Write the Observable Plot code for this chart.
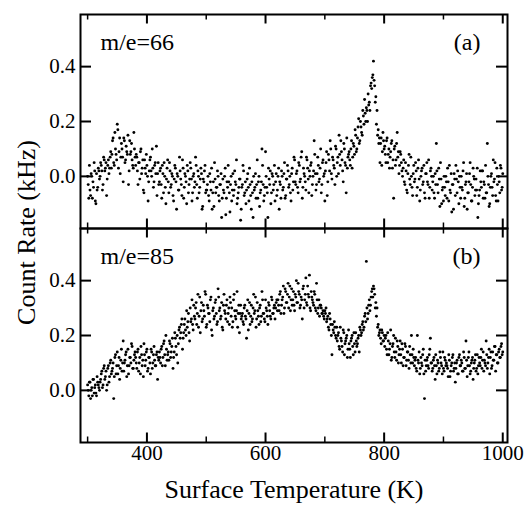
<!DOCTYPE html>
<html><head><meta charset="utf-8">
<script src="https://cdn.jsdelivr.net/npm/d3@7"></script>
<script src="https://cdn.jsdelivr.net/npm/@observablehq/plot@0.6"></script>
<style>body{margin:0;background:#fff} svg{display:block}</style>
</head><body><div id="chart"></div>
<script>
// Surface temperature (K) of the samples, first set
const temperatures = [
300,302,304,306,308,310,312,314,316,318,
320,322,324,326,328,330,332,334,336,338,
340,342,344,346,348,350,352,354,356,358,
360,362,364,366,368,370,372,374,376,378,
380,382,384,386,388,390,392,394,396,398,
400,402,404,406,408,410,412,414,416,418,
420,422,424,426,428,430,432,434,436,438,
440,442,444,446,448,450,452,454,456,458,
460,462,464,466,468,470,472,474,476,478,
480,482,484,486,488,490,492,494,496,498,
500,502,504,506,508,510,512,514,516,518,
520,522,524,526,528,530,532,534,536,538,
540,542,544,546,548,550,552,554,556,558,
560,562,564,566,568,570,572,574,576,578,
580,582,584,586,588,590,592,594,596,598,
600,602,604,606,608,610,612,614,616,618,
620,622,624,626,628,630,632,634,636,638,
640,642,644,646,648,650,652,654,656,658,
660,662,664,666,668,670,672,674,676,678,
680,682,684,686,688,690,692,694,696,698,
700,702,704,706,708,710,712,714,716,718,
720,722,724,726,728,730,732,734,736,738,
740,742,744,746,748,750,752,754,756,758,
760,762,764,766,768,770,772,774,776,778,
780,782,784,786,788,790,792,794,796,798,
800,802,804,806,808,810,812,814,816,818,
820,822,824,826,828,830,832,834,836,838,
840,842,844,846,848,850,852,854,856,858,
860,862,864,866,868,870,872,874,876,878,
880,882,884,886,888,890,892,894,896,898,
900,902,904,906,908,910,912,914,916,918,
920,922,924,926,928,930,932,934,936,938,
940,942,944,946,948,950,952,954,956,958,
960,962,964,966,968,970,972,974,976,978,
980,982,984,986,988,990,992,994,996,998,
1000];

// Surface temperature (K) of the samples, second set
const temperatures2 = [
301,303,305,307,309,311,313,315,317,319,
321,323,325,327,329,331,333,335,337,339,
341,343,345,347,349,351,353,355,357,359,
361,363,365,367,369,371,373,375,377,379,
381,383,385,387,389,391,393,395,397,399,
401,403,405,407,409,411,413,415,417,419,
421,423,425,427,429,431,433,435,437,439,
441,443,445,447,449,451,453,455,457,459,
461,463,465,467,469,471,473,475,477,479,
481,483,485,487,489,491,493,495,497,499,
501,503,505,507,509,511,513,515,517,519,
521,523,525,527,529,531,533,535,537,539,
541,543,545,547,549,551,553,555,557,559,
561,563,565,567,569,571,573,575,577,579,
581,583,585,587,589,591,593,595,597,599,
601,603,605,607,609,611,613,615,617,619,
621,623,625,627,629,631,633,635,637,639,
641,643,645,647,649,651,653,655,657,659,
661,663,665,667,669,671,673,675,677,679,
681,683,685,687,689,691,693,695,697,699,
701,703,705,707,709,711,713,715,717,719,
721,723,725,727,729,731,733,735,737,739,
741,743,745,747,749,751,753,755,757,759,
761,763,765,767,769,771,773,775,777,779,
781,783,785,787,789,791,793,795,797,799,
801,803,805,807,809,811,813,815,817,819,
821,823,825,827,829,831,833,835,837,839,
841,843,845,847,849,851,853,855,857,859,
861,863,865,867,869,871,873,875,877,879,
881,883,885,887,889,891,893,895,897,899,
901,903,905,907,909,911,913,915,917,919,
921,923,925,927,929,931,933,935,937,939,
941,943,945,947,949,951,953,955,957,959,
961,963,965,967,969,971,973,975,977,979,
981,983,985,987,989,991,993,995,997,999];

// Count rate m/e=66, first set, in units of 0.01 kHz
const rateA = [
0,-8,-5,1,-8,-4,2,-10,-5,3,-1,
5,2,-3,6,3,-7,4,1,7,3,
13,5,16,8,19,3,14,7,10,-2,13,6,9,15,2,8,12,4,16,7,
8,2,5,-1,10,3,-5,6,1,4,-9,2,7,0,3,-2,5,11,1,-3,
2,-3,4,-6,0,-10,3,-2,5,-4,1,-7,-1,3,-12,0,-5,2,-3,6,-8,1,-2,4,-6,-1,3,-9,0,-4,7,-3,2,-6,-1,1,-11,-2,4,-5,
-3,-7,1,-5,-12,-2,5,-6,-4,0,-9,-3,-15,-1,-6,3,-8,-4,-2,-13,0,-5,-7,2,-3,-10,-6,-1,-16,-4,4,-7,-2,-5,1,-9,-3,-12,-6,0,-4,-8,6,-2,-11,-5,10,-3,-7,9,
-4,-15,-1,2,-6,0,-3,-9,1,-5,3,-2,-8,0,-4,5,-7,-1,2,-3,-6,1,-5,7,-2,
1,-4,5,-2,7,-8,3,0,-5,6,-1,2,4,-7,0,13,1,-3,7,-2,3,-6,5,0,-9,
5,-7,8,2,10,-1,6,3,11,0,7,15,4,9,2,12,5,-6,3,8,
6,10,3,12,8,15,10,18,12,20,16,24,19,23,25,
20,26,24,34,36,42,33,29,
24,17,14,12,4,16,10,
8,13,5,10,7,12,3,-8,11,6,16,9,4,8,2,
3,-2,5,-5,1,8,-3,0,-7,4,-1,2,-4,6,-9,0,3,-2,-6,1,5,-3,-8,2,0,
-2,-6,1,12,-3,3,-11,-1,-5,-9,-4,0,-8,-2,4,-6,-13,-3,1,-7,-1,2,-10,-4,0,-5,5,-8,-2,-12,-6,1,-3,-9,3,-1,-5,-5,-15,-7,2,-4,2,-2,-8,-6,12,-3,-10,0,-4,6,-1,-7,3,-9,-2,4,-5,1];

// Count rate m/e=66, second set, in units of 0.01 kHz
const rateA2 = [
-3,4,-7,0,-2,5,-9,1,-4,2,
0,4,-5,7,2,5,-1,6,3,9,
8,14,4,10,6,17,9,1,12,7,14,5,11,8,-3,13,9,6,3,10,
4,7,-3,5,9,1,6,-6,3,8,0,-2,6,2,10,-4,4,1,-7,5,
-2,3,-8,1,5,-4,-1,6,-6,2,-3,0,-9,4,-2,1,-5,7,-1,-7,3,-4,0,-10,2,-3,5,-1,-6,1,-2,4,-8,0,-4,3,-12,-1,2,-6,
-5,0,-9,-2,3,-6,-11,-1,-4,2,-7,-3,1,-8,-5,0,-14,-2,4,-6,-3,-9,1,-5,-2,6,-8,-4,-1,-12,-3,2,-6,-10,-1,-4,3,-7,-2,-15,-5,1,-3,-8,0,-6,-2,4,-9,-4,
0,-6,3,-3,-10,1,-5,4,-2,-7,0,-12,-3,2,-5,1,-8,-1,4,-4,0,-9,3,-2,6,
-3,2,-6,4,-1,9,-4,1,-2,7,3,-6,0,5,-3,2,8,-5,1,4,-1,10,-3,6,1,
2,9,-2,6,13,1,7,4,-3,10,5,1,8,13,6,-2,10,4,14,7,
9,4,13,7,11,17,9,14,21,13,18,15,22,28,20,
24,30,27,33,32,37,35,27,
19,15,12,5,14,9,13,
11,5,14,8,3,9,13,6,10,4,12,7,1,9,5,
0,6,-3,2,-6,4,-1,7,-4,1,-2,5,-7,3,-1,-5,2,-3,4,-8,1,-2,6,-4,3,
-5,0,-8,-3,2,-6,-1,5,-10,-4,0,-7,-2,3,-9,-5,1,-3,-12,-1,4,-6,-2,0,-8,-4,2,-11,-3,1,-6,-2,5,-9,-4,0,-7,-1,3,-10,-5,-2,2,-8,-3,4,-6,0,-11,-4,1,-7,-2,5,-9,-3,0,-6,3,-4];

// Count rate m/e=85, first set, in units of 0.01 kHz
const rateB = [
2,-2,3,0,-2,4,1,-1,5,2,0,
4,7,2,9,5,0,8,3,10,6,
8,-3,12,6,14,9,4,11,7,18,10,13,5,15,9,12,17,8,11,14,
10,14,7,12,16,9,5,13,11,15,8,12,6,14,10,16,9,13,4,11,
12,15,9,17,13,20,11,14,18,12,16,8,14,19,13,
10,22,19,24,15,21,26,20,23,28,18,25,33,22,27,
30,24,35,27,21,32,26,29,36,23,31,28,25,34,20,30,27,33,24,37,29,26,32,22,35,28,31,25,30,34,27,23,33,29,26,36,28,21,31,27,
25,30,27,19,33,28,24,31,26,35,29,23,32,27,30,25,36,28,26,33,29,24,31,27,34,28,30,26,32,29,
31,35,28,33,38,30,36,32,39,34,29,37,33,31,35,40,32,36,30,34,26,38,33,41,31,35,42,29,34,32,36,30,39,28,33,31,30,28,27,29,
30,26,23,28,24,13,22,25,20,23,
20,16,23,18,14,21,17,19,12,22,15,18,20,13,17,21,16,19,14,22,
21,25,23,28,47,26,31,29,34,37,38,35,32,
30,24,21,19,22,18,20,
19,15,21,13,17,11,16,20,12,14,18,10,15,13,17,9,12,16,11,14,8,13,20,10,12,
11,8,20,10,6,12,9,15,-3,7,11,9,13,19,10,8,12,4,9,11,7,14,10,6,8,12,9,9,5,11,7,10,13,8,3,10,6,12,9,11,7,14,8,18,5,12,9,7,11,4,10,13,8,6,12,9,15,11,7,10,18,8,12,6,14,9,11,16,7,13,10,15,12,17,14];

// Count rate m/e=85, second set, in units of 0.01 kHz
const rateB2 = [
0,3,-3,1,4,-1,2,-2,3,1,
3,6,1,8,4,7,2,9,5,11,
7,10,5,13,9,6,12,8,15,10,7,11,14,9,6,12,10,16,8,13,
12,8,15,10,6,13,11,17,9,14,7,12,10,15,8,13,11,9,14,12,
14,10,16,12,18,9,15,13,11,17,14,19,12,21,16,
20,17,23,21,26,19,24,22,29,25,21,30,26,24,31,
26,32,28,23,34,29,25,31,27,35,24,30,28,33,22,29,26,32,28,25,34,30,27,23,31,29,26,33,28,24,32,30,25,35,27,29,23,31,28,26,
28,24,31,26,29,22,32,27,25,30,28,34,26,29,24,31,27,33,28,25,30,27,32,29,26,33,28,31,30,33,
33,29,36,31,34,28,37,32,35,30,38,33,31,36,29,34,32,39,35,31,33,37,30,35,32,38,34,30,36,33,31,35,29,33,30,27,31,28,29,26,
28,25,27,22,26,20,24,21,23,19,
18,21,15,19,16,22,13,18,20,15,17,12,19,16,21,14,18,17,20,23,
20,24,22,27,25,30,28,33,31,36,34,37,30,
27,23,20,22,17,21,18,
16,20,13,18,15,22,12,17,14,19,11,16,13,18,10,15,12,17,9,14,11,16,10,13,15,
9,12,7,11,14,8,10,13,6,11,9,12,8,15,10,7,11,9,13,6,10,8,12,9,14,7,11,10,8,13,5,9,12,7,10,8,11,6,13,9,10,7,12,8,11,9,14,6,10,12,8,11,7,13,9,10,12,8,14,11,9,13,10,15,12,8,14,11,16,13,10,14,12,16,13];

const panels = ["a", "b"];
const massLabels = ["m/e=66", "m/e=85"];
const panelTags = ["(a)", "(b)"];
const xTicksMajor = [400, 600, 800, 1000];
const xTicksMinor = [300, 500, 700, 900];
const yTicks = [0, 0.2, 0.4];
const xTitle = "Surface Temperature (K)";
const yTitle = "Count Rate (kHz)";

if (rateA.length !== temperatures.length || rateB.length !== temperatures.length ||
    rateA2.length !== temperatures2.length || rateB2.length !== temperatures2.length)
  console.error("length mismatch", temperatures.length, rateA.length, rateB.length, temperatures2.length, rateA2.length, rateB2.length);

const rows = [
  ...temperatures.map((t, i) => ({panel: "a", T: t, rate: rateA[i] / 100})),
  ...temperatures2.map((t, i) => ({panel: "a", T: t, rate: rateA2[i] / 100})),
  ...temperatures.map((t, i) => ({panel: "b", T: t, rate: rateB[i] / 100})),
  ...temperatures2.map((t, i) => ({panel: "b", T: t, rate: rateB2[i] / 100}))
];
const labelRows = panels.map((p, i) => ({panel: p, mass: massLabels[i], tag: panelTags[i]}));

const W = 526, H = 508, mL = 80, mR = 19, mT = 13, mB = 66;
const plotW = W - mL - mR;
const facetH = (H - mT - mB) / 2;
const font = "'Liberation Serif', 'Times New Roman', serif";

const chart = Plot.plot({
  width: W, height: H,
  marginLeft: mL, marginRight: mR, marginTop: mT, marginBottom: mB,
  style: {fontFamily: font, background: "white", color: "black", overflow: "visible"},
  x: {domain: [288, 1008]},
  y: {domain: [-0.19, 0.59]},
  fy: {domain: panels, padding: 0, axis: null},
  marks: [
    Plot.dot(rows, {x: "T", y: "rate", fy: "panel", r: 1.45, fill: "black", stroke: null}),
    Plot.frame({stroke: "black", strokeWidth: 2}),
    Plot.ruleX(xTicksMajor, {x: d => d, insetTop: facetH - 10, strokeWidth: 2}),
    Plot.ruleX(xTicksMajor, {x: d => d, insetBottom: facetH - 10, strokeWidth: 2}),
    Plot.ruleX(xTicksMinor, {x: d => d, insetTop: facetH - 6, strokeWidth: 1.5}),
    Plot.ruleX(xTicksMinor, {x: d => d, insetBottom: facetH - 6, strokeWidth: 1.5}),
    Plot.ruleY(yTicks, {y: d => d, insetRight: plotW - 11, strokeWidth: 2}),
    Plot.ruleY(yTicks, {y: d => d, insetLeft: plotW - 11, strokeWidth: 2}),
    Plot.axisY({ticks: yTicks, tickSize: 0, tickPadding: 5, tickFormat: d3.format(".1f"), fontSize: 21, label: null}),
    Plot.axisX({ticks: xTicksMajor, tickSize: 0, tickPadding: 3, tickFormat: d => String(d), fontSize: 21, label: null}),
    Plot.text(labelRows, {fy: "panel", text: "mass", frameAnchor: "top-left", dx: 20, dy: 28, lineAnchor: "middle", textAnchor: "start", fontSize: 24}),
    Plot.text(labelRows, {fy: "panel", text: "tag", frameAnchor: "top-right", dx: -27, dy: 28, lineAnchor: "middle", textAnchor: "end", fontSize: 24}),
    Plot.text([{panel: "b", t: xTitle}], {fy: "panel", text: "t", frameAnchor: "bottom", dy: 47, lineAnchor: "middle", textAnchor: "middle", fontSize: 26}),
    Plot.text([{panel: "a", t: yTitle}], {fy: "panel", text: "t", frameAnchor: "bottom-left", dx: -54, dy: 4, rotate: -90, lineAnchor: "middle", textAnchor: "middle", fontSize: 26})
  ]
});
document.getElementById("chart").appendChild(chart);
</script>
</body></html>
